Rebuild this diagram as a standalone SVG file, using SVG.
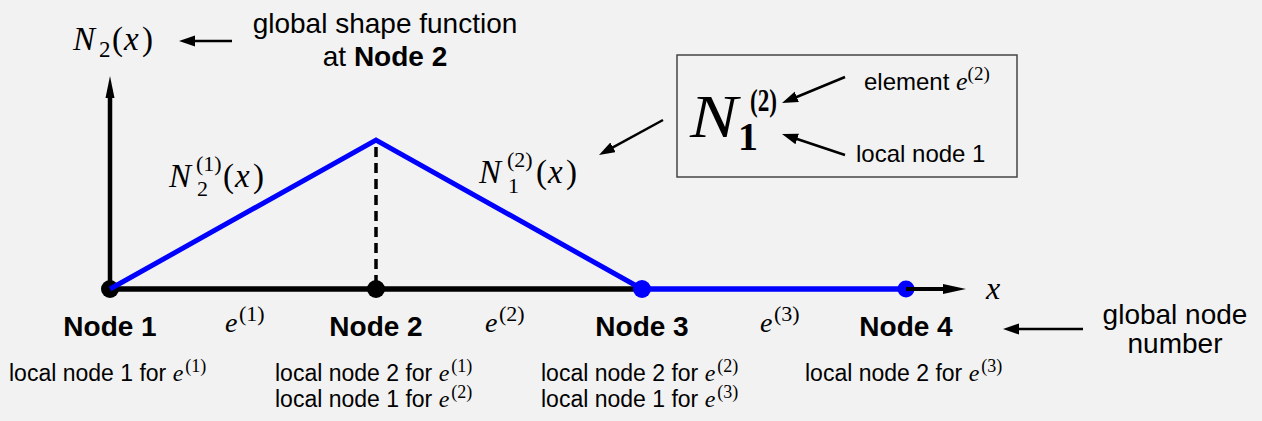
<svg xmlns="http://www.w3.org/2000/svg" width="1262" height="421" viewBox="0 0 1262 421">
<style>
.sans{font-family:"Liberation Sans",Arial,sans-serif;fill:#000}
.bold{font-weight:bold}
.serif{font-family:"Liberation Serif","Times New Roman",serif;fill:#000}
.it{font-style:italic}
.nodelabel{font-family:"Liberation Sans",Arial,sans-serif;font-weight:bold;font-size:28px;text-anchor:middle}
.local{font-family:"Liberation Sans",Arial,sans-serif;font-size:23px}
.ann{stroke:#000;stroke-width:2.5;fill:none;marker-end:url(#ah)}
.blue{stroke:#0000ff;stroke-width:5;fill:none}
</style>
<defs>
<marker id="ah" markerUnits="userSpaceOnUse" markerWidth="17" markerHeight="12" refX="8" refY="5.5" orient="auto">
<path d="M0,0 L16,5.5 L0,11 Z" fill="#000"/>
</marker>
</defs>
<rect x="0" y="0" width="1262" height="421" fill="#f2f2f2"/>

<g id="connectors">
<line x1="376" y1="147" x2="376" y2="284" stroke="#000" stroke-width="3.5" stroke-dasharray="10 6"/>
<line x1="110" y1="289" x2="110" y2="96" stroke="#000" stroke-width="4.5"/>
<polygon points="105.5,98 110,76 114.5,98" fill="#000"/>
<line x1="110" y1="289" x2="642" y2="289" stroke="#000" stroke-width="5.5"/>
</g>

<g id="node1">
<circle cx="110" cy="289" r="9" fill="#000"/>
</g>
<g id="node2">
<circle cx="376" cy="289" r="9" fill="#000"/>
</g>

<g id="shape-function">
<polyline class="blue" points="110,289 376,140 642,289"/>
<line x1="642" y1="289" x2="906" y2="289" stroke="#0000ff" stroke-width="5.5"/>
</g>

<g id="node3">
<circle cx="642" cy="289" r="9" fill="#0000ff"/>
</g>
<g id="node4">
<circle cx="906" cy="289" r="8.5" fill="#0000ff"/>
</g>

<g id="x-axis-arrow">
<line x1="906" y1="289" x2="946" y2="289" stroke="#000" stroke-width="4"/>
<polygon points="943,284 966,289 943,294" fill="#000"/>
</g>

<g id="annotation-arrows">
<line class="ann" x1="232" y1="41" x2="187" y2="41"/>
<line class="ann" x1="663" y1="120" x2="606" y2="151.2"/>
<line class="ann" x1="845" y1="77" x2="789.4" y2="100"/>
<line class="ann" x1="845" y1="155" x2="789.6" y2="136.5"/>
<line class="ann" x1="1083" y1="329" x2="1011" y2="329"/>
</g>

<g id="labels-nodes">
<text class="nodelabel" x="110" y="336">Node 1</text>
<text class="nodelabel" x="376" y="336">Node 2</text>
<text class="nodelabel" x="642" y="336">Node 3</text>
<text class="nodelabel" x="906" y="336">Node 4</text>
</g>

<g id="elements">
<text class="serif" font-size="28"><tspan class="it" x="225" y="332">e</tspan><tspan x="239" y="321" font-size="22">(1)</tspan></text>
<text class="serif" font-size="28"><tspan class="it" x="485" y="332">e</tspan><tspan x="499" y="321" font-size="22">(2)</tspan></text>
<text class="serif" font-size="28"><tspan class="it" x="760" y="332">e</tspan><tspan x="774" y="321" font-size="22">(3)</tspan></text>
<text class="serif it" x="986" y="299" font-size="32">x</text>
</g>

<g id="function-labels">
<text class="serif" font-size="33"><tspan class="it" x="73" y="50">N</tspan><tspan x="99" y="57" font-size="23">2</tspan><tspan x="112" y="50">(</tspan><tspan class="it" x="124" y="50">x</tspan><tspan x="142" y="50">)</tspan></text>
<text class="serif" font-size="33"><tspan class="it" x="169" y="187">N</tspan><tspan x="196" y="171" font-size="22">(1)</tspan><tspan x="197" y="196" font-size="22">2</tspan><tspan x="223" y="187">(</tspan><tspan class="it" x="235" y="187">x</tspan><tspan x="253" y="187">)</tspan></text>
<text class="serif" font-size="33"><tspan class="it" x="479" y="183">N</tspan><tspan x="507" y="167" font-size="22">(2)</tspan><tspan x="508" y="193" font-size="22">1</tspan><tspan x="536" y="183">(</tspan><tspan class="it" x="548" y="183">x</tspan><tspan x="566" y="183">)</tspan></text>
</g>

<g id="global-shape-note">
<text class="sans" font-size="28" text-anchor="middle" x="385" y="33">global shape function</text>
<text class="sans" font-size="28" text-anchor="middle" x="385" y="66">at <tspan class="bold">Node 2</tspan></text>
</g>

<g id="legend-box">
<rect x="677" y="55" width="340" height="122" fill="none" stroke="#444" stroke-width="1.5"/>
<text class="serif it" font-size="62" transform="translate(690,137) scale(1.15,1)" x="0" y="0">N</text>
<text class="serif bold" font-size="31" x="750" y="111" textLength="27" lengthAdjust="spacingAndGlyphs">(2)</text>
<text class="serif bold" font-size="40" x="738" y="150">1</text>
<text class="sans" font-size="24" x="864" y="90">element <tspan class="serif it" font-size="26">e</tspan><tspan class="serif" font-size="19" dy="-10">(2)</tspan></text>
<text class="sans" font-size="24" x="856" y="162">local node 1</text>
</g>

<g id="global-node-note">
<text class="sans" font-size="28" text-anchor="middle" x="1175" y="324">global node</text>
<text class="sans" font-size="28" text-anchor="middle" x="1175" y="353">number</text>
</g>

<g id="local-labels">
<text class="local" x="9" y="381">local node 1 for <tspan class="serif it" font-size="24">e</tspan><tspan class="serif" font-size="18" dx="2" dy="-9">(1)</tspan></text>
<text class="local" x="275" y="381">local node 2 for <tspan class="serif it" font-size="24">e</tspan><tspan class="serif" font-size="18" dx="2" dy="-9">(1)</tspan></text>
<text class="local" x="275" y="407">local node 1 for <tspan class="serif it" font-size="24">e</tspan><tspan class="serif" font-size="18" dx="2" dy="-9">(2)</tspan></text>
<text class="local" x="541" y="381">local node 2 for <tspan class="serif it" font-size="24">e</tspan><tspan class="serif" font-size="18" dx="2" dy="-9">(2)</tspan></text>
<text class="local" x="541" y="407">local node 1 for <tspan class="serif it" font-size="24">e</tspan><tspan class="serif" font-size="18" dx="2" dy="-9">(3)</tspan></text>
<text class="local" x="805" y="381">local node 2 for <tspan class="serif it" font-size="24">e</tspan><tspan class="serif" font-size="18" dx="2" dy="-9">(3)</tspan></text>
</g>
</svg>
